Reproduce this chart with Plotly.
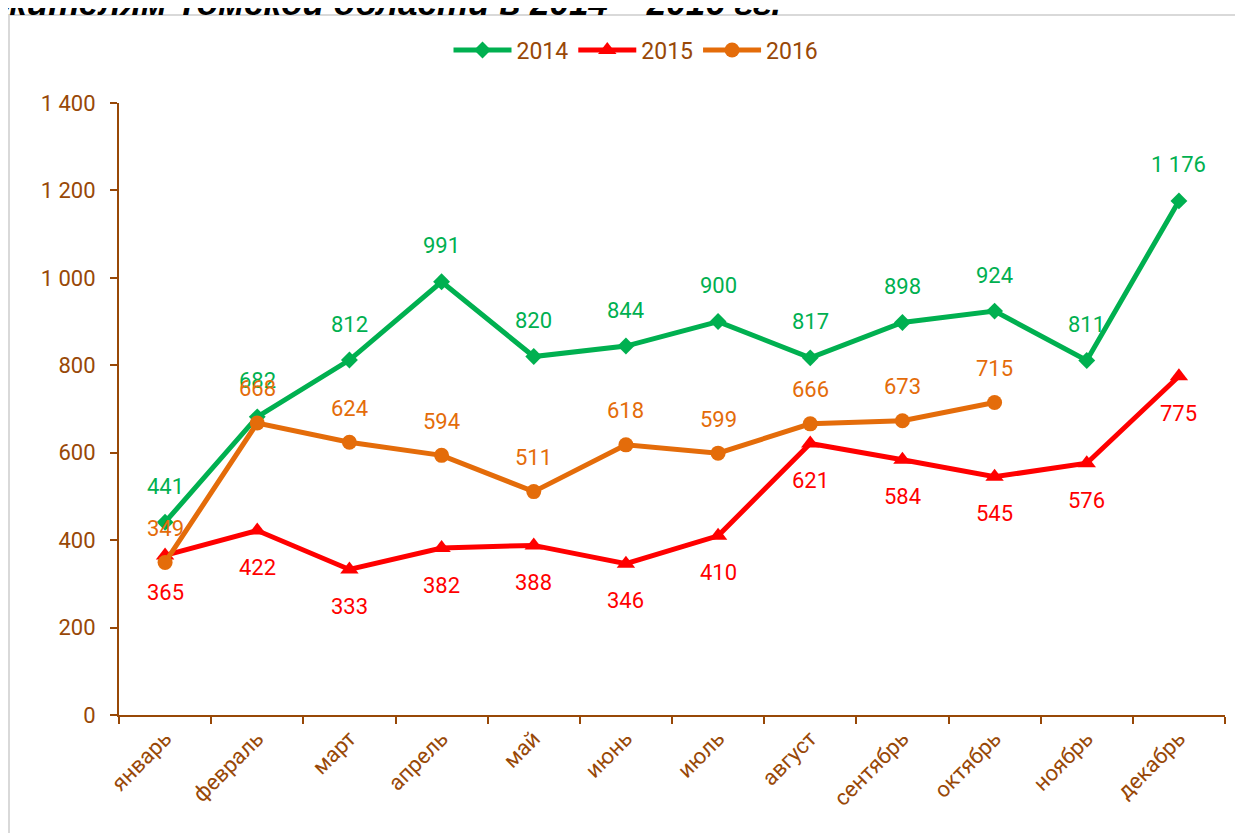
import plotly.graph_objects as go

months = ["январь", "февраль", "март", "апрель", "май", "июнь", "июль",
          "август", "сентябрь", "октябрь", "ноябрь", "декабрь"]
v2014 = [441, 682, 812, 991, 820, 844, 900, 817, 898, 924, 811, 1176]
v2015 = [365, 422, 333, 382, 388, 346, 410, 621, 584, 545, 576, 775]
v2016 = [349, 668, 624, 594, 511, 618, 599, 666, 673, 715, None, None]

GREEN = "#00B050"
RED = "#FF0000"
ORANGE = "#E46C0A"
BROWN = "#984807"
FONT = "Roboto"

OFF = 8  # page body margin
W, H = 1243, 833
# plot area in screen pixels
SX0, SX1, SY0, SY1 = 119, 1225, 103, 715
L, T = SX0 - OFF, SY0 - OFF
R = W - (SX1 - OFF)
B = H - (SY1 - OFF)
pw, ph = W - L - R, H - T - B


def px_x(p):
    return (p - OFF - L) / pw


def px_y(p):
    return 1 + (T - (p - OFF)) / ph


fig = go.Figure()
series = [
    ("2014", v2014, GREEN, "diamond", 13, 36),
    ("2015", v2015, RED, "triangle-up", 16, -37),
    ("2016", v2016, ORANGE, "circle", 15, 34),
]
for name, vals, col, sym, msize, shift in series:
    fig.add_trace(go.Scatter(
        x=months, y=vals, name=name, mode="lines+markers",
        line=dict(color=col, width=5),
        marker=dict(symbol=sym, size=msize, color=col),
        connectgaps=False,
    ))

annotations = []
for name, vals, col, sym, msize, shift in series:
    for m, v in zip(months, vals):
        if v is None:
            continue
        annotations.append(dict(
            x=m, y=v, xref="x", yref="y", text=f"{v:,}".replace(",", " "),
            showarrow=False, yshift=shift,
            font=dict(family=FONT, size=22, color=col),
        ))

annotations.append(dict(
    x=px_x(-3), y=px_y(24), xref="paper", yref="paper", xanchor="left", yanchor="bottom",
    text="<b><i>жителям Томской области в 2014 – 2016 гг.</i></b>", showarrow=False,
    font=dict(family="Liberation Sans", size=35, color="#000000"),
))

fig.update_layout(
    width=W, height=H,
    margin=dict(l=L, r=R, t=T, b=B, autoexpand=False),
    paper_bgcolor="white", plot_bgcolor="white",
    separators=", ",
    showlegend=True,
    legend=dict(orientation="h", x=(636 - OFF) / W, y=1 - (50 - OFF) / H,
                xref="container", yref="container",
                xanchor="center", yanchor="middle",
                font=dict(family=FONT, size=23, color=BROWN), itemwidth=58,
                bgcolor="rgba(0,0,0,0)", traceorder="normal"),
    annotations=annotations,
    shapes=[dict(type="rect", xref="paper", yref="paper",
                 x0=px_x(9), x1=px_x(1300), y0=px_y(900), y1=px_y(15),
                 line=dict(color="#D9D9D9", width=2), layer="below")],
)

fig.update_xaxes(
    type="category", range=[-0.5, 11.5], automargin=False,
    showline=True, linecolor=BROWN, linewidth=2,
    ticks="outside", tickson="boundaries", ticklen=7, tickcolor=BROWN, tickwidth=2,
    tickangle=-45, tickfont=dict(family=FONT, size=22, color=BROWN),
    showgrid=False, zeroline=False,
)
fig.update_yaxes(
    range=[0, 1400], dtick=200, tickformat=",d", automargin=False,
    showline=True, linecolor=BROWN, linewidth=2,
    ticks="outside", ticklen=7, tickcolor=BROWN, tickwidth=2,
    ticklabelstandoff=10,
    tickfont=dict(family=FONT, size=22, color=BROWN),
    showgrid=False, zeroline=False,
)

fig.write_html("out.html")
